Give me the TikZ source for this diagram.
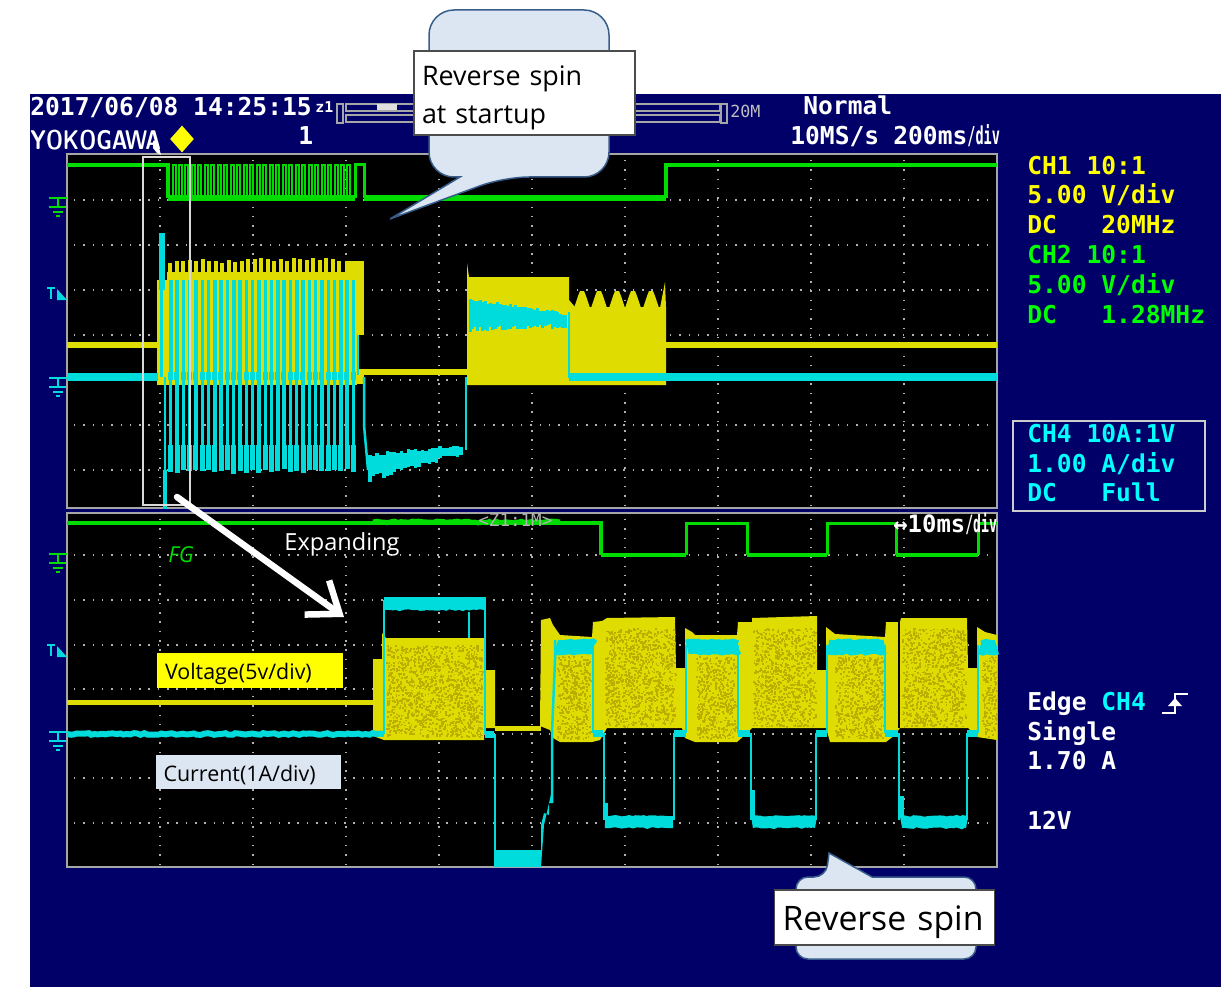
\documentclass[tikz,border=0pt]{standalone}
\usepackage{fontspec}
\setmainfont{Open Sans}
\newfontfamily\scopefont{DejaVu Sans Mono}
\usetikzlibrary{shapes}
\usetikzlibrary{arrows.meta}
\usetikzlibrary{decorations.pathmorphing}

\definecolor{panelblue}{HTML}{000068}
\definecolor{traceyellow}{HTML}{DEDC00}
\definecolor{tracedark}{HTML}{BCAE00}
\definecolor{tracecyan}{HTML}{00DCDC}
\definecolor{tracegreen}{HTML}{00DC00}
\definecolor{readyellow}{HTML}{FFFF00}
\definecolor{readgreen}{HTML}{00FF00}
\definecolor{readcyan}{HTML}{00FFFF}
\definecolor{bubblefill}{HTML}{DCE6F2}
\definecolor{bubbleline}{HTML}{385D8A}
\newcommand{\unitpx}{0.569pt}
\newcommand{\shortdiv}{\scalebox{0.55}[1]{/div}}

\tikzset{
  screen/.style={fill=black,draw=gray!70,line width=2.5*\unitpx},
  griddots/.style={draw=gray!60,line width=1.5*\unitpx,dash pattern=on 0.85pt off 4.45pt},
  chgreen/.style={draw=tracegreen,line width=3*\unitpx},
  chyellow/.style={draw=traceyellow,line width=6*\unitpx},
  chcyan/.style={draw=tracecyan,line width=8*\unitpx},
  chthin/.style={draw=tracecyan,line width=2.5*\unitpx},
  noisy/.style={decorate,decoration={random steps,segment length=2pt,amplitude=0.5pt}},
  scopetext/.style={anchor=base west,inner sep=0pt,text=white,font=\scopefont\bfseries\fontsize{14}{14}\selectfont},
  bubble/.style={fill=bubblefill,draw=bubbleline,line width=1.5*\unitpx},
  whitebox/.style={fill=white,draw=black!70,line width=1.5*\unitpx,align=left,inner sep=0pt,text=black},
  labelbox/.style={inner sep=0pt,align=left,text=black,font=\fontsize{12.2}{12}\selectfont},
  gndmark/.pic={
    \draw[pic actions,line width=2*\unitpx] (0,0)--(10,0) (1,-1)--(1,9) (-8,9)--(9,9) (-4,14)--(6,14) (-1,18)--(3,18);
    \draw[pic actions,line width=2*\unitpx] (-8,0)--(10,0);
  },
  trigmark/.pic={
    \draw[tracecyan,line width=2*\unitpx] (-10,-5)--(-2,-5) (-6,-5)--(-6,6);
    \fill[tracecyan] (0,7)--(10,7)--(0,-4)--cycle;
  }
}

\begin{document}
\begin{tikzpicture}[x=0.02cm,y=-0.02cm]

  \useasboundingbox (0,0) rectangle (1230,1000);
  \fill[panelblue] (30,94) rectangle (1221,987);

  % screens and grid
  \draw[screen] (67,154) rectangle (997,508);
  \draw[screen] (67,513) rectangle (997,867);
  \foreach \y in {200,245,290,335,380,425,470}
    \draw[griddots] (74,\y) -- (992,\y);
  \foreach \y in {555,600,645,689,734,778,823}
    \draw[griddots] (74,\y) -- (992,\y);
  \foreach \x in {160,253,346,439,532,625,718,811,904} {
    \draw[griddots] (\x,160) -- (\x,505);
    \draw[griddots] (\x,519) -- (\x,864);
  }
  \pgfmathsetseed{11}

  % ---- upper screen, yellow
  \draw[chyellow] (67,345) -- (158,345);
  \draw[chyellow] (666,345) -- (997,345);
  \draw[chyellow] (364,372) -- (467,372);
  \fill[traceyellow] (157,280) rectangle (167,385);
  \fill[traceyellow] (167,272) rectangle (364,385);
  \fill[traceyellow] (345,261) rectangle (364,272);
  \foreach \x in {168,174.5,...,342}
    \fill[traceyellow] (\x,274) rectangle (\x+4.3,258+rnd*5);
  \fill[black] (357,335) rectangle (364,369);
  \fill[black] (357,384) rectangle (365,386);
  \fill[traceyellow] (467,263) -- (469,277) -- (569,277) -- (569,385) -- (467,385) -- cycle;
  \fill[traceyellow] (569,300) -- (575,307) -- (666,307) -- (666,385) -- (569,385) -- cycle;
  \foreach \x in {582,599,617,633,651}
    \fill[traceyellow] (\x-8,308) -- (\x-4,296) -- (\x-2,291) -- (\x+2,291) -- (\x+4,296) -- (\x+8,308) -- cycle;
  \fill[traceyellow] (660,308) -- (665,282) -- (666,308) -- cycle;

  % ---- upper screen, cyan
  \draw[chcyan] (67,377) -- (158,377);
  \draw[chcyan] (569,377) -- (997,377);
  \fill[tracecyan] (159,233) rectangle (165,290);
  \fill[tracecyan] (160,290) rectangle (163,377);
  \fill[tracecyan] (163,470) rectangle (167,509);
  \draw[chthin] (165,377) -- (165,480);
  \foreach \x in {169,175.3,...,352} {
    \fill[tracecyan] (\x,280) rectangle (\x+3.5,373);
    \fill[tracecyan] (\x-1,372) rectangle (\x+4,380);
    \fill[tracecyan] (\x,380) rectangle (\x+3.4,445);
    \fill[tracecyan] (\x-0.8,445) rectangle (\x+4.2,469+rnd*5);
  }
  \draw[chthin] (358,335) -- (358,375);
  \draw[chthin] (364,377) -- (364,425) -- (368,470);
  \foreach \x in {370,373.5,...,464}
    \draw[chthin,line width=3.6*\unitpx] (\x,{453-(\x-370)*0.105+rnd*4}) -- (\x,{482-(\x-370)*0.28-rnd*6});
  \draw[chthin] (466,377) -- (466,450);
  \foreach \x in {470,472.5,...,566}
    \draw[chthin,line width=3*\unitpx] (\x,{298+(\x-470)*0.14+rnd*4}) -- (\x,{332-(\x-470)*0.04-rnd*5});
  \draw[chthin] (569,312) -- (569,378);

  % ---- upper screen, green
  \draw[chgreen,line width=4*\unitpx] (67,165) -- (168,165) -- (168,198);
  \draw[chgreen,line width=6*\unitpx] (168,198) -- (355,198);
  \foreach \x in {173,179,185,192,198,205,211,218,224,231,237,244,250,257,263,270,276,283,289,296,302,309,315,322,328,335,341,347}
    \draw[chgreen,line width=1.7*\unitpx] (\x,198) -- (\x,165) -- (\x+2.8,165) -- (\x+2.8,198);
  \draw[chgreen] (355,198) -- (355,165) -- (364,165) -- (364,198);
  \draw[chgreen,line width=6*\unitpx] (364,198) -- (666,198);
  \draw[chgreen,line width=4*\unitpx] (666,198) -- (666,165) -- (997,165);

  % ---- lower screen, yellow
  \draw[chyellow,line width=5*\unitpx] (67,702) -- (373,702);
  \fill[traceyellow] (373,659) -- (382,659) -- (382,633) -- (386,638) -- (484,638) -- (484,670)
    -- (495,670) -- (495,728) -- (484,728) -- (484,740) -- (384,740) -- (373,736) -- cycle;
  \draw[chyellow,line width=5*\unitpx] (495,728) -- (541,728);
  \fill[traceyellow] (540,726) -- (541,620) -- (550,618) -- (553,625) -- (560,635) -- (592,637)
    -- (593,622) -- (602,621) -- (607,618) -- (675,617) -- (676,668) -- (685,668) -- (685,628)
    -- (692,632) -- (695,635) -- (737,635) -- (738,622) -- (752,622) -- (752,618) -- (817,616)
    -- (817,670) -- (826,670) -- (826,627) -- (835,634) -- (885,637) -- (886,622) -- (900,622)
    -- (901,618) -- (967,618) -- (968,668) -- (977,668) -- (977,627) -- (985,632) -- (997,635)
    -- (997,740) -- (977,737) -- (968,728) -- (900,728) -- (895,735) -- (886,742) -- (830,742)
    -- (826,728) -- (752,728) -- (745,735) -- (737,742) -- (695,742) -- (685,738) -- (682,728)
    -- (607,728) -- (600,740) -- (592,742) -- (560,742) -- (553,738) -- (550,730) -- cycle;
  \foreach \xa/\xb/\ya/\yb/\n in {386/482/645/736/1300, 557/590/656/738/400, 605/675/628/726/1000,
      696/735/656/738/480, 753/815/628/726/880, 835/883/656/738/580, 902/965/628/726/880, 982/996/656/736/170}
    \foreach \i in {1,...,\n} {
      \pgfmathsetmacro\sx{\xa+rnd*(\xb-\xa)}
      \pgfmathsetmacro\sy{\ya+rnd*(\yb-\ya)}
      \fill[tracedark] (\sx,\sy) rectangle ++(1.8,1.8);
    }
  \fill[black] (898,621) rectangle (900,728);

  % ---- lower screen, cyan
  \draw[chcyan,line width=6*\unitpx,noisy] (67,734) -- (384,734);
  \draw[chthin] (384,734) -- (384,600);
  \draw[chthin] (485,600) -- (485,734);
  \fill[tracecyan] (384,597) rectangle (486,600);
  \draw[chcyan,line width=12*\unitpx,noisy] (385,604) -- (485,604);
  \draw[chthin] (469,612) -- (469,638);
  \draw[chcyan,line width=7*\unitpx] (485,734) -- (494,734);
  \draw[chthin] (495,734) -- (495,851);
  \fill[tracecyan] (494,850) rectangle (541,867);
  \fill[tracecyan] (541,867) -- (541,825) -- (544,813) -- (549,815) -- (549,803) -- (552,803) -- (552,790) -- (544,825) -- cycle;
  \draw[chthin] (552,803) -- (552,733) -- (555,660) -- (555,640);
  % cyan pulses: upper band from, to, then the lower band
  \foreach \xa/\xb in {556/593, 687/738, 828/885, 980/997}
    \draw[chcyan,line width=15*\unitpx,noisy] (\xa,647) -- (\xb,647);
  \foreach \xa/\xb in {605/673, 752/816, 901/967}
    \draw[chcyan,line width=12*\unitpx,noisy] (\xa,822) -- (\xb,822);
  \foreach \xa/\xb in {593/603, 674/686, 738/750, 816/827, 885/898, 967/978}
    \draw[chcyan,line width=7*\unitpx] (\xa,733) -- (\xb,733);
  \foreach \x in {593,686,738,827,885,978}
    \draw[chthin] (\x,645) -- (\x,733);
  \foreach \x in {604,674,751,816,899,967}
    \draw[chthin] (\x,733) -- (\x,820);
  \fill[tracecyan] (751,790) rectangle (755,818);
  \fill[tracecyan] (899,796) rectangle (904,818);
  \fill[tracecyan] (605,803) rectangle (608,818);

  % ---- lower screen, green
  \draw[chgreen,line width=3.5*\unitpx] (67,523) -- (601,523) -- (601,555);
  \draw[chgreen,line width=5*\unitpx,noisy] (373,522) -- (560,522);
  \draw[chgreen,line width=4.5*\unitpx] (601,555) -- (686,555);
  \draw[chgreen] (686,555) -- (686,523) -- (747,523) -- (747,555);
  \draw[chgreen,line width=4.5*\unitpx] (747,555) -- (827,555);
  \draw[chgreen] (827,555) -- (827,523) -- (896,523) -- (896,555);
  \draw[chgreen,line width=4.5*\unitpx] (896,555) -- (978,555);
  \draw[chgreen] (978,555) -- (978,523) -- (997,523);

  % side marks
  \pic[tracegreen] at (57,198) {gndmark};
  \pic[tracecyan] at (57,378) {gndmark};
  \pic at (57,293) {trigmark};
  \pic[tracegreen] at (57,554) {gndmark};
  \pic[tracecyan] at (57,732) {gndmark};
  \pic at (57,650) {trigmark};

  % header
  \node[scopetext] (datetime) at (30,116) {2017/06/08 14:25:15};
  \node[scopetext,font=\scopefont\bfseries\fontsize{8.5}{8}\selectfont] (zoomone) at (315,113) {z1};
  \node[scopetext,font=\sffamily\bfseries\fontsize{15.4}{15}\selectfont] (maker) at (30,150) {\scalebox{0.79}[1]{YOKOGAWA}};
  \node[fill=readyellow,diamond,inner sep=0pt,minimum width=24*\unitpx,minimum height=27*\unitpx] (trigdiamond) at (182,139) {};
  \node[scopetext] (acqnum) at (298,145) {1};
  \draw[gray!70,line width=2*\unitpx] (337,104) rectangle (343,123);
  \draw[gray!70,line width=2*\unitpx] (346,104) rectangle (720,111);
  \draw[gray!70,line width=2*\unitpx] (346,115) rectangle (720,122);
  \draw[gray!70,line width=2*\unitpx] (721,104) rectangle (727,123);
  \fill[gray!25] (377,104) rectangle (397,110);
  \node[scopetext,font=\scopefont\fontsize{9.5}{10}\selectfont,text=gray!50] (memsize) at (730,118) {20M};
  \node[scopetext] (trigmode) at (803,115) {Normal};
  \node[scopetext] (samplerate) at (790,145) {10MS/s};
  \node[scopetext] (timebase) at (893,145) {200ms\shortdiv};

  % channel readout
  \node[scopetext,text=readyellow] (chonea) at (1027,175) {CH1 10:1};
  \node[scopetext,text=readyellow] (choneb) at (1027,204) {5.00 V/div};
  \node[scopetext,text=readyellow] (chonec) at (1027,234) {DC~~~20MHz};
  \node[scopetext,text=readgreen] (chtwoa) at (1027,263) {CH2 10:1};
  \node[scopetext,text=readgreen] (chtwob) at (1027,293) {5.00 V/div};
  \node[scopetext,text=readgreen] (chtwoc) at (1027,323) {DC~~~1.28MHz};
  \draw[gray!40,line width=2*\unitpx] (1013,421) rectangle (1205,511);
  \node[scopetext,text=readcyan] (chfoura) at (1027,442) {CH4 10A:1V};
  \node[scopetext,text=readcyan] (chfourb) at (1027,472) {1.00 A/div};
  \node[scopetext,text=readcyan] (chfourc) at (1027,501) {DC~~~Full};
  \node[scopetext] (edgemode) at (1027,710) {Edge \textcolor{readcyan}{CH4}};
  \draw[white,line width=2*\unitpx] (1162,713) -- (1175,713) -- (1175,694) -- (1188,694);
  \fill[white] (1168,706) -- (1182,706) -- (1175,698) -- cycle;
  \node[scopetext] (singlemode) at (1027,740) {Single};
  \node[scopetext] (triglevel) at (1027,769) {1.70 A};
  \node[scopetext] (supply) at (1027,829) {12V};

  % lower screen texts
  \node[scopetext,font=\scopefont\fontsize{10}{10}\selectfont,text=gray!60] (zoomratio) at (478,526) {<Z1:1M>};
  \node[scopetext,font=\scopefont\bfseries\fontsize{13.6}{14}\selectfont] (zoombase) at (893,532) {↔10ms\shortdiv};
  \node[inner sep=0pt,text=tracegreen,font=\itshape\fontsize{12.5}{12}\selectfont] (fglabel) at (181,555) {FG};
  \node[inner sep=0pt,text=white,font=\fontsize{13.4}{13}\selectfont] (expanding) at (342,544) {Expanding};
  \node[labelbox,fill=readyellow,minimum width=186*\unitpx,minimum height=35*\unitpx,text width=170*\unitpx] (voltage) at (250,670.5) {\rule{0pt}{12.8pt}Voltage(5v/div)};
  \node[labelbox,fill=bubblefill,minimum width=185*\unitpx,minimum height=34*\unitpx,text width=170*\unitpx] (current) at (248.5,772) {\rule{0pt}{12.8pt}Current(1A/div)};

  % zoom window
  \draw[gray!30,line width=2*\unitpx] (143,157) rectangle (190,505);
  \fill[white] (153,141) -- (157,140) -- (161,155) -- (157,153) -- (153,148) -- cycle;
  \coordinate (zoomtail) at (177,497);
  \coordinate (zoomtip) at (344,617);
  \draw[-{Straight Barb[length=28*\unitpx,width=42*\unitpx]},white,line width=6.5*\unitpx,line cap=round] (zoomtail) -- (zoomtip);

  % callouts
  \draw[bubble,rounded corners=25*\unitpx] (429,10) -- (609,10) -- (609,177) -- (504,177) [sharp corners] -- (390,219) -- (460,177) [rounded corners=25*\unitpx] -- (429,177) -- cycle;
  \node[whitebox,minimum width=221*\unitpx,minimum height=84*\unitpx,text width=205*\unitpx,font=\fontsize{15.3}{21.5}\selectfont] (startup) at (524.5,93) {\rule{0pt}{16.5pt}Reverse spin\\at startup};
  \draw[bubble,rounded corners=12*\unitpx] (796,877) -- (826,877) [sharp corners] -- (829,853) -- (872,877) [rounded corners=12*\unitpx] -- (976,877) -- (976,959) -- (796,959) -- cycle;
  \node[whitebox,minimum width=220*\unitpx,minimum height=55*\unitpx,text width=204*\unitpx,font=\fontsize{19.2}{19}\selectfont] (reverse) at (884.5,917.5) {\rule{0pt}{19.5pt}Reverse spin};

\end{tikzpicture}
\end{document}
